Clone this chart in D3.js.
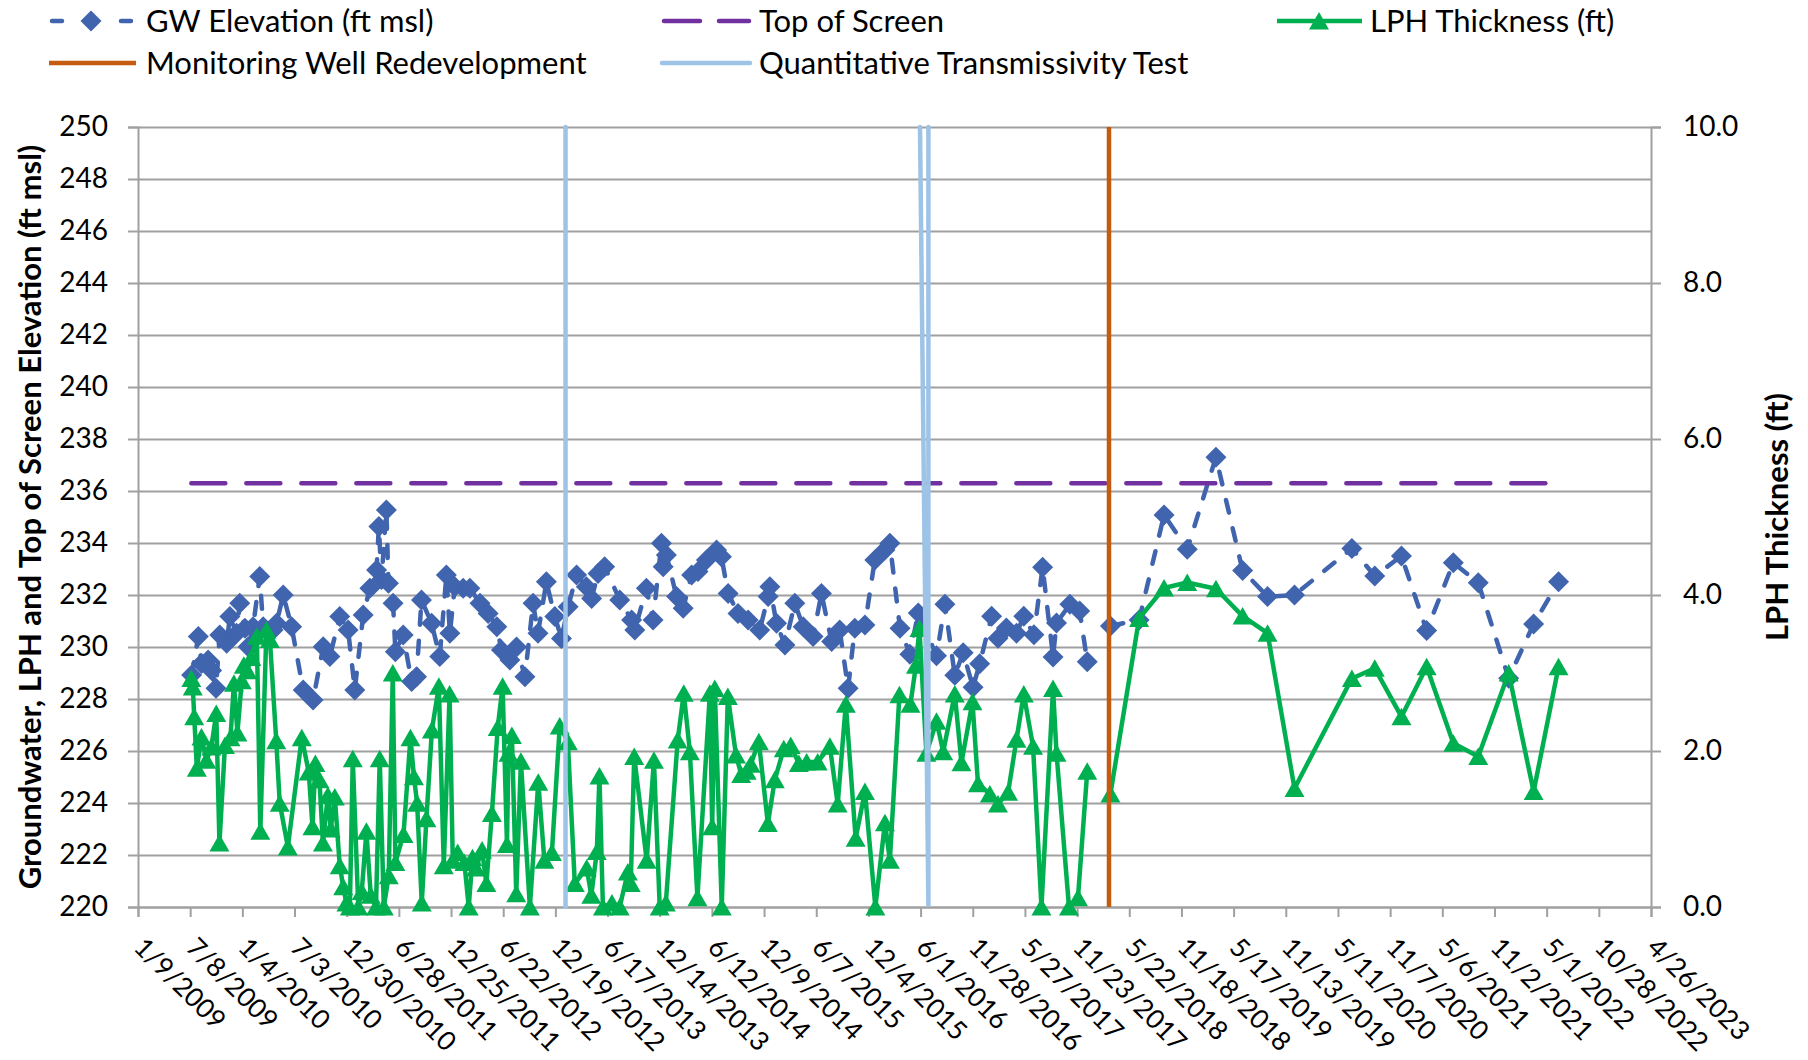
<!DOCTYPE html>
<html><head><meta charset="utf-8">
<script src="https://cdn.jsdelivr.net/npm/d3@7"></script>
<style>
body{margin:0;background:#fff}
svg{display:block}
text{font-family:Lato,"Open Sans",sans-serif;fill:#000}
</style>
</head><body>
<svg id="chart" width="1808" height="1060"></svg>
<script>
// ---------------- DATA ----------------
const xTickDates = ["2009-01-09","2009-07-08","2010-01-04","2010-07-03","2010-12-30","2011-06-28","2011-12-25","2012-06-22","2012-12-19","2013-06-17","2013-12-14","2014-06-12","2014-12-09","2015-06-07","2015-12-04","2016-06-01","2016-11-28","2017-05-27","2017-11-23","2018-05-22","2018-11-18","2019-05-17","2019-11-13","2020-05-11","2020-11-07","2021-05-06","2021-11-02","2022-05-01","2022-10-28","2023-04-26"];
const leftTicks = [220,222,224,226,228,230,232,234,236,238,240,242,244,246,248,250];
const rightTicks = [0,2,4,6,8,10];

const gwDates = ["2009-07-13","2009-08-05","2009-08-16","2009-09-08","2009-09-20","2009-10-05","2009-10-18","2009-11-11","2009-11-22","2009-12-15","2009-12-26","2010-01-13","2010-01-24","2010-02-10","2010-03-05","2010-03-17","2010-04-20","2010-05-02","2010-05-25","2010-06-23","2010-08-02","2010-09-05","2010-10-10","2010-11-02","2010-12-06","2011-01-04","2011-01-27","2011-02-25","2011-03-20","2011-04-12","2011-04-20","2011-04-29","2011-05-16","2011-05-23","2011-06-08","2011-06-16","2011-07-13","2011-08-11","2011-08-28","2011-09-14","2011-10-19","2011-11-16","2011-12-09","2011-12-21","2012-01-07","2012-02-05","2012-02-28","2012-04-03","2012-05-01","2012-05-31","2012-06-16","2012-07-15","2012-08-07",
"2012-09-05","2012-10-03","2012-10-20","2012-11-18","2012-12-17","2013-01-09","2013-02-01","2013-03-02","2013-04-05","2013-04-23","2013-05-15","2013-06-07","2013-07-29","2013-09-08","2013-09-19","2013-10-29","2013-11-21","2013-12-20","2013-12-26","2014-01-06","2014-02-10","2014-03-05","2014-04-03","2014-04-25","2014-05-24","2014-06-28","2014-07-15","2014-08-07","2014-09-10","2014-10-15","2014-11-24","2014-12-23","2014-12-29","2015-01-21","2015-02-19","2015-03-25","2015-04-23","2015-05-27","2015-06-25","2015-07-30","2015-08-27","2015-09-25","2015-10-18","2015-11-22","2015-12-26","2016-01-30","2016-02-16","2016-03-22","2016-04-25","2016-05-24","2016-07-26","2016-08-24","2016-09-27","2016-10-26","2016-11-29","2016-12-22","2017-02-01","2017-02-23","2017-03-24","2017-04-28","2017-05-23","2017-06-27","2017-07-27","2017-09-01","2017-09-13","2017-10-29","2017-12-02","2017-12-28",
"2018-03-18","2018-06-25","2018-09-19","2018-12-08","2019-03-17","2019-06-17","2019-09-11","2019-12-13","2020-06-28","2020-09-15","2020-12-16","2021-03-13","2021-06-13","2021-09-07","2021-12-21","2022-03-17","2022-06-11"];
const gwValues = [228.92,230.40,229.37,229.5,229.1,228.41,230.46,230.14,231.17,230.53,231.68,230.72,230.01,230.78,232.71,230.78,230.65,230.91,232.0,230.78,228.35,227.96,230.01,229.63,231.17,230.65,228.35,231.23,232.26,232.96,234.63,232.6,235.27,232.45,231.68,229.82,230.46,228.67,228.86,231.81,230.91,229.63,232.77,230.53,232.32,232.26,232.26,231.68,231.29,230.78,229.88,229.5,230.0,
228.86,231.68,230.53,232.51,231.17,230.33,231.55,232.77,232.32,231.87,232.83,233.09,231.81,231.04,230.65,232.26,231.04,233.99,233.09,233.54,231.94,231.49,232.77,232.9,233.35,233.73,233.47,232.06,231.29,231.04,230.65,231.94,232.32,230.91,230.08,231.68,230.78,230.40,232.06,230.21,230.65,228.41,230.72,230.85,233.35,233.73,233.99,230.72,229.72,231.31,229.66,231.64,228.91,229.78,228.45,229.36,231.18,230.34,230.73,230.53,231.18,230.47,233.07,229.62,230.92,231.64,231.38,229.43,
230.81,231.04,235.08,233.76,237.30,232.94,231.94,232.0,233.79,232.73,233.5,230.63,233.24,232.47,228.8,230.88,232.51];

const lphDates = ["2009-07-12","2009-07-17","2009-07-22","2009-07-31","2009-08-16","2009-09-02","2009-09-19","2009-10-06","2009-10-17","2009-11-05","2009-11-24","2009-12-06","2009-12-18","2010-01-02","2010-01-09","2010-01-21","2010-02-04","2010-02-23","2010-03-07","2010-03-28","2010-04-09","2010-05-01","2010-05-13","2010-06-10","2010-07-28","2010-08-21","2010-09-03","2010-09-13","2010-09-27","2010-10-09","2010-10-26","2010-11-05","2010-11-19","2010-12-06","2010-12-18","2010-12-29","2011-01-10","2011-01-20","2011-02-08","2011-02-20","2011-03-08","2011-03-23","2011-04-10","2011-04-23","2011-05-07","2011-05-24","2011-06-07","2011-06-16","2011-07-14","2011-08-07","2011-08-19","2011-08-30","2011-09-15","2011-10-01","2011-10-20","2011-11-13","2011-11-30","2011-12-20","2011-12-31","2012-01-17","2012-02-09","2012-02-24","2012-03-08","2012-03-20","2012-04-10","2012-04-25","2012-05-14","2012-06-03","2012-06-20","2012-07-05","2012-07-10","2012-07-22","2012-08-06",
"2012-08-22","2012-09-22","2012-10-21","2012-11-11","2012-12-07","2013-01-03","2013-01-31","2013-02-24","2013-04-06","2013-04-22","2013-05-11","2013-05-20","2013-06-01","2013-07-02","2013-07-29","2013-08-26","2013-09-05","2013-09-17","2013-10-30","2013-11-24","2013-12-14","2014-01-04","2014-02-14","2014-03-07","2014-03-28","2014-04-23","2014-06-05","2014-06-13","2014-06-22","2014-07-16","2014-08-06","2014-09-03","2014-09-21","2014-10-10","2014-10-24","2014-11-21","2014-12-22","2015-01-15","2015-02-15","2015-03-11","2015-04-08","2015-05-05","2015-06-12","2015-07-24","2015-08-20","2015-09-17","2015-10-21","2015-11-22","2015-12-28","2016-01-30","2016-02-16","2016-03-20","2016-04-27","2016-05-16","2016-05-28","2016-06-21","2016-07-26","2016-08-18","2016-09-27","2016-10-20","2016-11-27","2016-12-16","2017-01-26","2017-02-23","2017-03-30","2017-04-28","2017-05-23","2017-06-24","2017-07-23","2017-09-01","2017-09-13","2017-10-26","2017-11-26","2017-12-28",
"2018-03-18","2018-06-25","2018-09-19","2018-12-08","2019-03-17","2019-06-17","2019-09-11","2019-12-13","2020-06-28","2020-09-15","2020-12-16","2021-03-13","2021-06-13","2021-09-07","2021-12-21","2022-03-17","2022-06-11"];
const lphValues = [2.93,2.82,2.44,1.78,2.18,1.88,2.05,2.48,0.82,2.07,2.17,2.87,2.23,2.9,3.1,3.03,3.2,3.47,0.97,3.55,3.43,2.13,1.33,0.77,2.17,1.73,1.03,1.84,1.63,0.82,1.43,1.0,1.41,0.53,0.26,0.05,0,1.9,0,0.2,0.97,0.15,0,1.9,0,0.4,3.0,0.57,0.93,2.17,1.67,1.33,0.05,1.13,2.27,2.83,0.53,2.73,0.6,0.7,0.57,0,0.63,0.5,0.73,0.3,1.2,2.3,2.83,0.8,1.97,2.2,0.17,
1.87,0,1.6,0.6,0.7,2.32,2.12,0.3,0.5,0.15,0.71,1.68,0,0.05,0,0.45,0.3,1.93,0.6,1.88,0,0.05,2.14,2.74,1.99,0.12,2.74,1.03,2.8,0,2.7,1.95,1.7,1.74,1.83,2.12,1.07,1.63,2.03,2.07,1.84,1.86,1.86,2.06,1.32,2.6,0.88,1.48,0,1.08,0.6,2.72,2.6,3.1,3.57,1.97,2.38,1.99,2.73,1.85,2.63,1.58,1.45,1.32,1.47,2.15,2.73,2.06,0,2.80,1.97,0,0.12,1.74,
1.45,3.70,4.09,4.16,4.08,3.73,3.51,1.52,2.93,3.06,2.44,3.08,2.10,1.93,3.0,1.48,3.08];

const topOfScreenDates = ["2009-07-12","2022-06-11"];
const topOfScreenValues = [236.3,236.3];
const redevelopmentDates = ["2018-03-13","2018-03-13"];
const redevelopmentValues = [220,250];
const transmissivityDates = ["2013-01-23","2013-01-23",null,"2016-05-30","2016-06-28","2016-06-28"];
const transmissivityValues = [220,250,null,250,220,250];

const legendLabels = ["GW Elevation (ft msl)","Top of Screen","LPH Thickness (ft)","Monitoring Well Redevelopment","Quantitative Transmissivity Test"];
const leftTitle = "Groundwater, LPH and Top of Screen Elevation (ft msl)";
const rightTitle = "LPH Thickness (ft)";

// ---------------- STYLE ----------------
const C = {gw:"#4064AE", tos:"#7030A0", lph:"#00B050", redev:"#C55A11", qtt:"#9DC3E6", grid:"#a0a0a0"};
const FS = 28, XFS = 26.5, LEG_FS = 31, TITLE_FS = 31;
const P = {left:138, right:1651, top:127, bottom:907};

const parse = d3.timeParse("%Y-%m-%d");
const svg = d3.select("#chart");

const x = d3.scaleTime().domain([parse(xTickDates[0]), parse(xTickDates[xTickDates.length-1])]).range([P.left, P.right]);
const yL = d3.scaleLinear().domain([220,250]).range([P.bottom, P.top]);
const yR = d3.scaleLinear().domain([0,10]).range([P.bottom, P.top]);

// gridlines
svg.append("g").attr("transform",`translate(${P.left},0)`)
  .call(d3.axisLeft(yL).tickValues(leftTicks).tickSize(-(P.right-P.left)).tickFormat(""))
  .call(g=>{g.select(".domain").remove(); g.selectAll("line").attr("stroke",C.grid).attr("stroke-width",2);});

// left axis
svg.append("g").attr("transform",`translate(${P.left},0)`)
  .call(d3.axisLeft(yL).tickValues(leftTicks).tickSize(10).tickPadding(20).tickFormat(d3.format("d")))
  .call(g=>{g.select(".domain").attr("stroke",C.grid).attr("stroke-width",2);
    g.selectAll("line").attr("stroke",C.grid).attr("stroke-width",2);
    g.selectAll("text").attr("font-size",FS).style("font-family","Lato");});

// right axis
svg.append("g").attr("transform",`translate(${P.right},0)`)
  .call(d3.axisRight(yR).tickValues(rightTicks).tickSize(10).tickPadding(22).tickFormat(d3.format(".1f")))
  .call(g=>{g.select(".domain").attr("stroke",C.grid).attr("stroke-width",2);
    g.selectAll("line").attr("stroke",C.grid).attr("stroke-width",2);
    g.selectAll("text").attr("font-size",FS).style("font-family","Lato");});

// bottom axis
svg.append("g").attr("transform",`translate(0,${P.bottom})`)
  .call(d3.axisBottom(x).tickValues(xTickDates.map(parse)).tickSize(10).tickFormat(d3.timeFormat("%-m/%-d/%Y")))
  .call(g=>{g.select(".domain").attr("stroke",C.grid).attr("stroke-width",2);
    g.selectAll("line").attr("stroke",C.grid).attr("stroke-width",2);
    g.selectAll("text").attr("font-size",XFS).style("font-family","Lato")
      .attr("text-anchor","start").attr("x",0).attr("y",0).attr("dy",0)
      .attr("transform","translate(-6,42) rotate(45)");});

// series helpers
function pts(dates, vals){ return dates.map((d,i)=>({d: d?parse(d):null, v: vals[i]})); }
const redevDate = parse(redevelopmentDates[0]);

// GW line (break at redevelopment)
const gw = pts(gwDates, gwValues);
const lineL = d3.line().defined(p=>p.d && p.v!=null).x(p=>x(p.d)).y(p=>yL(p.v));
[gw.filter(p=>p.d<redevDate), gw.filter(p=>p.d>=redevDate)].forEach(seg=>{
  svg.append("path").attr("d",lineL(seg)).attr("fill","none").attr("stroke",C.gw)
    .attr("stroke-width",4.5).attr("stroke-dasharray","13,16").attr("stroke-linecap","round");
});
const diamond = r=>`M0,${-r}L${r},0L0,${r}L${-r},0Z`;
svg.append("g").selectAll("path").data(gw).join("path")
  .attr("d",diamond(10.5)).attr("fill",C.gw)
  .attr("transform",p=>`translate(${x(p.d)},${yL(p.v)})`);

// Top of Screen
const tos = pts(topOfScreenDates, topOfScreenValues);
svg.append("path").attr("d",lineL(tos)).attr("fill","none").attr("stroke",C.tos)
  .attr("stroke-width",4.5).attr("stroke-dasharray","34,21").attr("stroke-linecap","round");

// LPH (right axis)
const lph = pts(lphDates, lphValues);
const lineR = d3.line().defined(p=>p.d && p.v!=null).x(p=>x(p.d)).y(p=>yR(p.v));
[lph.filter(p=>p.d<redevDate), lph.filter(p=>p.d>=redevDate)].forEach(seg=>{
  svg.append("path").attr("d",lineR(seg)).attr("fill","none").attr("stroke",C.lph)
    .attr("stroke-width",4.5).attr("stroke-linejoin","round");
});
const tri = "M0,-9L10,8.5L-10,8.5Z";
svg.append("g").selectAll("path").data(lph).join("path")
  .attr("d",tri).attr("fill",C.lph)
  .attr("transform",p=>`translate(${x(p.d)},${yR(p.v)})`);

// Redevelopment & transmissivity tests
svg.append("path").attr("d",lineL(pts(redevelopmentDates, redevelopmentValues)))
  .attr("fill","none").attr("stroke",C.redev).attr("stroke-width",4.5);
svg.append("path").attr("d",lineL(pts(transmissivityDates, transmissivityValues)))
  .attr("fill","none").attr("stroke",C.qtt).attr("stroke-width",4.5).attr("stroke-linecap","round");

// axis titles
svg.append("text").attr("transform",`translate(29,${(P.top+P.bottom)/2}) rotate(-90)`)
  .attr("text-anchor","middle").attr("dominant-baseline","central")
  .attr("font-size",TITLE_FS).attr("font-weight","bold").text(leftTitle);
svg.append("text").attr("transform",`translate(1776,${(P.top+P.bottom)/2}) rotate(-90)`)
  .attr("text-anchor","middle").attr("dominant-baseline","central")
  .attr("font-size",TITLE_FS).attr("font-weight","bold").text(rightTitle);

// legend
const leg = svg.append("g");
const rowY = [21, 63];
function legText(tx, ty, s){ leg.append("text").attr("x",tx).attr("y",ty).attr("dy","0.35em").attr("font-size",LEG_FS).text(s); }
// GW
leg.append("line").attr("x1",52).attr("x2",62).attr("y1",rowY[0]).attr("y2",rowY[0]).attr("stroke",C.gw).attr("stroke-width",4.5).attr("stroke-linecap","round");
leg.append("line").attr("x1",121).attr("x2",131).attr("y1",rowY[0]).attr("y2",rowY[0]).attr("stroke",C.gw).attr("stroke-width",4.5).attr("stroke-linecap","round");
leg.append("path").attr("d",diamond(10.5)).attr("fill",C.gw).attr("transform",`translate(91,${rowY[0]})`);
legText(146,rowY[0],legendLabels[0]);
// TOS
leg.append("line").attr("x1",664).attr("x2",700).attr("y1",rowY[0]).attr("y2",rowY[0]).attr("stroke",C.tos).attr("stroke-width",4.5).attr("stroke-linecap","round");
leg.append("line").attr("x1",719).attr("x2",749).attr("y1",rowY[0]).attr("y2",rowY[0]).attr("stroke",C.tos).attr("stroke-width",4.5).attr("stroke-linecap","round");
legText(759,rowY[0],legendLabels[1]);
// LPH
leg.append("line").attr("x1",1277).attr("x2",1362).attr("y1",rowY[0]).attr("y2",rowY[0]).attr("stroke",C.lph).attr("stroke-width",4.5);
leg.append("path").attr("d",tri).attr("fill",C.lph).attr("transform",`translate(1319,${rowY[0]})`);
legText(1370,rowY[0],legendLabels[2]);
// Redev
leg.append("line").attr("x1",49).attr("x2",136).attr("y1",rowY[1]).attr("y2",rowY[1]).attr("stroke",C.redev).attr("stroke-width",4.5);
legText(146,rowY[1],legendLabels[3]);
// QTT
leg.append("line").attr("x1",662).attr("x2",750).attr("y1",rowY[1]).attr("y2",rowY[1]).attr("stroke",C.qtt).attr("stroke-width",4.5).attr("stroke-linecap","round");
legText(759,rowY[1],legendLabels[4]);
</script>
</body></html>
